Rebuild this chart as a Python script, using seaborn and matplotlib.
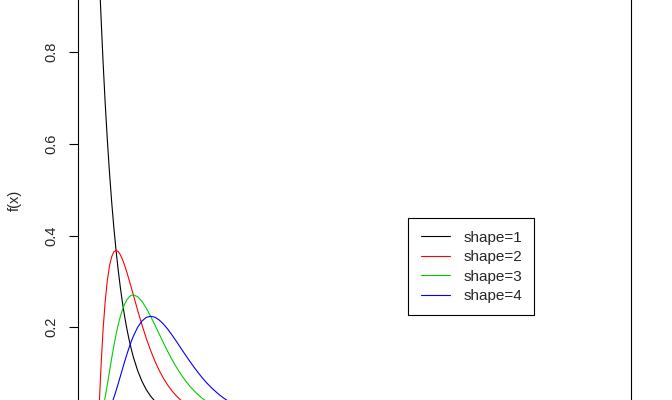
import numpy as np
import pandas as pd
import seaborn as sns
import matplotlib.pyplot as plt

# densities
x = [0, 0.0625, 0.125, 0.25, 0.375, 0.5, 0.625, 0.75, 0.875, 1, 1.125, 1.25, 1.375,
     1.5, 1.625, 1.75, 1.875, 2, 2.25, 2.5, 2.75, 3, 3.25, 3.5, 3.75,
     4, 4.25, 4.5, 4.75, 5, 5.25, 5.5, 5.75, 6, 6.25, 6.5, 6.75, 7, 7.25, 7.5, 7.75, 8]
shape1 = [1.0, 0.9394, 0.8825, 0.7788, 0.6873, 0.6065, 0.5353, 0.4724, 0.4169, 0.3679,
          0.3247, 0.2865, 0.2528, 0.2231, 0.1969, 0.1738, 0.1534, 0.1353, 0.1054,
          0.0821, 0.0639, 0.0498, 0.0388, 0.0302, 0.0235, 0.0183, 0.0143, 0.0111, 0.0087,
          0.0067, 0.0053, 0.0041, 0.0032, 0.0025, 0.0019, 0.0015, 0.0012, 0.0009, 0.0007,
          0.0006, 0.0004, 0.0003]
shape2 = [0.0, 0.0587, 0.1103, 0.1947, 0.2577, 0.3033, 0.3346, 0.3543, 0.3648, 0.3679,
          0.3653, 0.3581, 0.3476, 0.3347, 0.3200, 0.3041, 0.2876, 0.2707, 0.2372,
          0.2052, 0.1758, 0.1494, 0.1261, 0.1057, 0.0882, 0.0733, 0.0606, 0.0500, 0.0411,
          0.0337, 0.0276, 0.0225, 0.0183, 0.0149, 0.0121, 0.0098, 0.0079, 0.0064, 0.0051,
          0.0041, 0.0033, 0.0027]
shape3 = [0.0, 0.0018, 0.0069, 0.0243, 0.0483, 0.0758, 0.1046, 0.1329, 0.1596, 0.1839,
          0.2055, 0.2238, 0.2390, 0.2510, 0.2600, 0.2661, 0.2696, 0.2707, 0.2668,
          0.2565, 0.2417, 0.2240, 0.2049, 0.1850, 0.1654, 0.1465, 0.1288, 0.1125, 0.0976,
          0.0842, 0.0724, 0.0619, 0.0527, 0.0446, 0.0377, 0.0318, 0.0267, 0.0223, 0.0186,
          0.0155, 0.0129, 0.0107]
shape4 = [0.0, 0.0000, 0.0003, 0.0020, 0.0060, 0.0126, 0.0218, 0.0332, 0.0466, 0.0613,
          0.0771, 0.0933, 0.1095, 0.1255, 0.1408, 0.1552, 0.1685, 0.1804, 0.2001,
          0.2138, 0.2216, 0.2240, 0.2220, 0.2158, 0.2068, 0.1954, 0.1825, 0.1687, 0.1545,
          0.1404, 0.1267, 0.1135, 0.1010, 0.0892, 0.0785, 0.0689, 0.0601, 0.0520, 0.0449,
          0.0388, 0.0333, 0.0285]
labels = ['shape=1', 'shape=2', 'shape=3', 'shape=4']
colors = ['black', '#FF0000', '#00CD00', '#0000FF']

df = pd.DataFrame({'x': x * 4,
                   'f': shape1 + shape2 + shape3 + shape4,
                   'shape': np.repeat(labels, len(x))})

sns.set_style('white')
plt.rcParams['font.family'] = ['Liberation Sans', 'DejaVu Sans']

fig = plt.figure(figsize=(6.72, 4), dpi=100)
ax = fig.add_axes([78 / 672, 0, (631.3 - 78) / 672, 1])
sns.lineplot(data=df, x='x', y='f', hue='shape', palette=colors, linewidth=0.8,
             ax=ax, sort=False, estimator=None)

ax.set_xlim(-1.2, 30.8)
ax.set_ylim(0.0414, 0.914)
ax.set_xticks([])
ax.set_yticks([0.2, 0.4, 0.6, 0.8])
ax.set_yticklabels(['0.2', '0.4', '0.6', '0.8'], rotation=90, va='center', fontsize=10.5)
ax.tick_params(axis='y', left=True, length=6.7, width=0.8, pad=7.5, color='black')
ax.set_xlabel('')
ax.set_ylabel('f(x)', fontsize=10.5, labelpad=16)
for side in ['top', 'bottom']:
    ax.spines[side].set_visible(False)
for side in ['left', 'right']:
    ax.spines[side].set_color('black')
    ax.spines[side].set_linewidth(0.8)

leg = ax.legend(loc='upper left', bbox_to_anchor=(408.3 / 672, 1 - 218.3 / 400),
                bbox_transform=fig.transFigure, fontsize=11, frameon=True,
                fancybox=False, framealpha=1, edgecolor='black',
                handlelength=1.95, handletextpad=0.85, borderpad=0.8,
                labelspacing=0.36, borderaxespad=0)
leg.get_frame().set_linewidth(0.8)
for line in leg.get_lines():
    line.set_linewidth(0.8)

fig.savefig('out.png', dpi=100)
